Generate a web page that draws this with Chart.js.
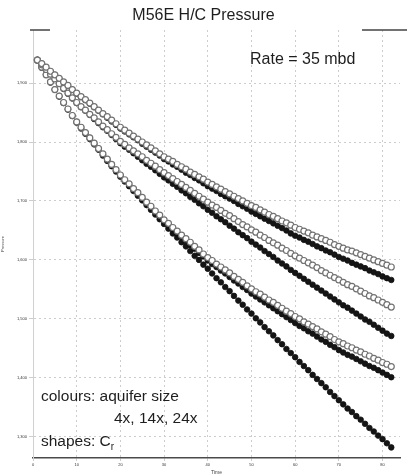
<!DOCTYPE html>
<html>
<head>
<meta charset="utf-8">
<script src="https://cdn.jsdelivr.net/npm/chart.js@4/dist/chart.umd.min.js"></script>
<style>
  html, body { margin: 0; padding: 0; background: #fff; }
  #wrap { width: 407px; height: 476px; position: relative; }
</style>
</head>
<body>
<div id="wrap"><canvas id="pressure-chart"></canvas></div>
<script>
// time steps
const times = [
  1, 2, 3, 4, 5, 6, 7, 8, 9, 10, 11, 12, 13, 14, 15, 16, 17, 18, 19, 20,
  21, 22, 23, 24, 25, 26, 27, 28, 29, 30, 31, 32, 33, 34, 35, 36, 37, 38, 39, 40,
  41, 42, 43, 44, 45, 46, 47, 48, 49, 50, 51, 52, 53, 54, 55, 56, 57, 58, 59, 60,
  61, 62, 63, 64, 65, 66, 67, 68, 69, 70, 71, 72, 73, 74, 75, 76, 77, 78, 79, 80,
  81, 82
];

// hollow markers
const hollowLarge = [
  1939,1933,1927,1920,1914,1908,1902,1896,1889,1883,
  1877,1872,1866,1860,1854,1848,1843,1837,1831,1825,
  1820,1815,1810,1805,1800,1795,1790,1785,1780,1775,
  1771,1767,1762,1758,1754,1749,1745,1741,1737,1732,
  1728,1724,1720,1716,1712,1708,1704,1700,1696,1692,
  1689,1685,1681,1677,1674,1670,1666,1663,1659,1655,
  1652,1649,1646,1642,1639,1636,1633,1630,1626,1623,
  1620,1617,1615,1612,1609,1606,1603,1600,1597,1594,
  1591,1588
];
const hollowMid = [
  1939,1931,1923,1915,1907,1899,1891,1883,1875,1867,
  1860,1854,1847,1841,1834,1827,1821,1814,1808,1801,
  1796,1790,1785,1780,1775,1769,1764,1759,1753,1748,
  1743,1738,1733,1728,1723,1718,1713,1708,1703,1698,
  1693,1689,1684,1679,1675,1670,1665,1660,1656,1651,
  1647,1642,1638,1633,1629,1625,1620,1616,1611,1607,
  1603,1599,1595,1591,1587,1582,1578,1574,1570,1566,
  1562,1558,1555,1551,1547,1543,1539,1536,1532,1528,
  1524,1520
];
const hollowSmall = [
  1939,1927,1914,1902,1889,1878,1867,1856,1845,1834,
  1825,1816,1807,1798,1789,1780,1771,1762,1753,1744,
  1736,1729,1721,1714,1706,1698,1691,1683,1676,1668,
  1662,1655,1649,1642,1636,1630,1623,1617,1610,1604,
  1599,1593,1588,1583,1578,1572,1567,1562,1556,1551,
  1546,1542,1537,1532,1528,1523,1518,1513,1509,1504,
  1500,1495,1491,1487,1483,1478,1474,1470,1465,1461,
  1458,1454,1451,1447,1444,1440,1437,1433,1430,1426,
  1423,1419
];

// solid markers
const solidLarge = [
  1939,1933,1926,1920,1914,1908,1901,1895,1889,1882,
  1876,1871,1865,1859,1853,1847,1841,1835,1829,1823,
  1818,1813,1808,1803,1797,1792,1787,1782,1777,1771,
  1767,1762,1758,1753,1748,1744,1739,1735,1730,1725,
  1721,1717,1712,1708,1704,1700,1695,1691,1687,1682,
  1678,1674,1670,1666,1662,1658,1654,1650,1645,1641,
  1638,1634,1631,1627,1623,1620,1616,1613,1609,1605,
  1602,1599,1595,1592,1589,1586,1582,1579,1576,1572,
  1569,1566
];
const solidMid = [
  1939,1931,1923,1915,1907,1899,1890,1882,1874,1866,
  1859,1853,1846,1839,1832,1825,1819,1812,1805,1798,
  1792,1787,1781,1775,1769,1763,1758,1752,1746,1740,
  1735,1729,1724,1718,1713,1707,1702,1696,1691,1685,
  1680,1674,1669,1664,1658,1653,1647,1642,1637,1631,
  1626,1621,1615,1610,1605,1599,1594,1589,1583,1578,
  1573,1568,1563,1558,1553,1548,1543,1538,1533,1528,
  1523,1519,1514,1509,1504,1499,1495,1490,1485,1480,
  1475,1471
];
const solidSmall = [
  1939,1927,1914,1902,1889,1878,1867,1856,1845,1834,
  1825,1816,1807,1798,1789,1779,1770,1761,1752,1743,
  1735,1727,1720,1712,1704,1696,1688,1681,1673,1665,
  1658,1652,1645,1639,1632,1625,1619,1612,1606,1599,
  1593,1588,1582,1577,1571,1565,1560,1554,1549,1543,
  1538,1533,1528,1523,1518,1513,1508,1503,1498,1493,
  1488,1484,1479,1475,1470,1465,1461,1456,1452,1447,
  1443,1439,1436,1432,1428,1424,1420,1417,1413,1409,
  1405,1401
];
const solidSteep = [
  1939,1926,1914,1901,1889,1877,1866,1855,1844,1833,
  1823,1814,1805,1796,1787,1777,1768,1759,1750,1741,
  1733,1725,1717,1709,1701,1693,1685,1677,1669,1661,
  1653,1645,1638,1630,1623,1615,1607,1600,1592,1585,
  1577,1569,1562,1554,1547,1539,1531,1524,1516,1509,
  1501,1494,1486,1479,1472,1464,1457,1449,1442,1435,
  1427,1420,1413,1405,1398,1391,1384,1376,1369,1362,
  1355,1348,1342,1335,1329,1322,1315,1309,1302,1296,
  1289,1282
];

const xTicks = [0, 10, 20, 30, 40, 50, 60, 70, 80];
const yTicks = [1300, 1400, 1500, 1600, 1700, 1800, 1900];

const toPoints = (vals) => vals.map((v, i) => ({ x: times[i], y: v }));

const hollow = (label, vals) => ({
  label: label,
  data: toPoints(vals),
  showLine: false,
  pointStyle: "circle",
  pointRadius: 3,
  pointBorderWidth: 1.2,
  pointBorderColor: "#727272",
  pointBackgroundColor: "#ffffff",
});

const solid = (label, vals) => ({
  label: label,
  data: toPoints(vals),
  showLine: false,
  pointStyle: "circle",
  pointRadius: 2.8,
  pointBorderWidth: 0.8,
  pointBorderColor: "#111111",
  pointBackgroundColor: "#151515",
});

const datasets = [
  hollow("24x hollow", hollowLarge),
  hollow("14x hollow", hollowMid),
  hollow("4x hollow", hollowSmall),
  solid("24x solid", solidLarge),
  solid("14x solid", solidMid),
  solid("4x solid", solidSmall),
  solid("4x steep", solidSteep),
];

const FONT = "Arial, 'Liberation Sans', sans-serif";

// title, notes and the bits of frame
const notes = {
  id: "notes",
  afterDraw(chart) {
    const ctx = chart.ctx;
    const area = chart.chartArea;
    ctx.save();
    ctx.fillStyle = "#1e1e1e";
    ctx.textBaseline = "middle";

    ctx.font = "16px " + FONT;
    ctx.textAlign = "center";
    ctx.fillText("M56E H/C Pressure", chart.width / 2, 16);

    ctx.textAlign = "left";
    ctx.font = "16px " + FONT;
    ctx.fillText("Rate = 35 mbd", 250, 60);

    ctx.font = "15.5px " + FONT;
    ctx.fillText("colours: aquifer size", 41, 397);
    ctx.fillText("4x, 14x, 24x", 114, 419);
    const s = "shapes: C";
    ctx.fillText(s, 41, 442);
    const w = ctx.measureText(s).width;
    ctx.font = "10px " + FONT;
    ctx.fillText("r", 41 + w, 447);

    ctx.strokeStyle = "#444";
    ctx.lineWidth = 1.5;
    ctx.beginPath();
    ctx.moveTo(30, area.top);
    ctx.lineTo(50, area.top);
    ctx.moveTo(362, area.top);
    ctx.lineTo(407, area.top);
    ctx.stroke();
    ctx.restore();
  },
};

const keepTicks = (list) => (axis) => {
  axis.ticks = list.map((v) => ({ value: v }));
};

const config = {
  type: "scatter",
  data: { datasets: datasets },
  options: {
    responsive: true,
    maintainAspectRatio: false,
    animation: false,
    layout: { padding: { top: 30, right: 7, left: 0, bottom: 0 } },
    plugins: {
      legend: { display: false },
      title: { display: false },
      tooltip: { enabled: false },
    },
    scales: {
      x: {
        type: "linear",
        min: 0,
        max: 84,
        afterBuildTicks: keepTicks(xTicks),
        afterFit: (scale) => { scale.height = 18; },
        grid: { color: "#cdcdcd", lineWidth: 1, tickLength: 3 },
        border: { color: "#4a4a4a", width: 1.5, dash: [2, 3] },
        ticks: { font: { size: 4, family: FONT }, color: "#333", padding: 1, maxRotation: 0 },
        title: { display: true, text: "Time", font: { size: 5, family: FONT }, color: "#444", padding: 0 },
      },
      y: {
        type: "linear",
        min: 1264,
        max: 1990,
        afterBuildTicks: keepTicks(yTicks),
        afterFit: (scale) => { scale.width = 33; },
        grid: { color: "#cdcdcd", lineWidth: 1, tickLength: 4 },
        border: { color: "#d0d0d0", width: 1, dash: [2, 3] },
        ticks: { font: { size: 4, family: FONT }, color: "#333", padding: 2 },
        title: { display: true, text: "Pressure", font: { size: 4, family: FONT }, color: "#444", padding: 0 },
      },
    },
  },
  plugins: [notes],
};

const chart = new Chart(document.getElementById("pressure-chart"), config);
</script>
</body>
</html>
